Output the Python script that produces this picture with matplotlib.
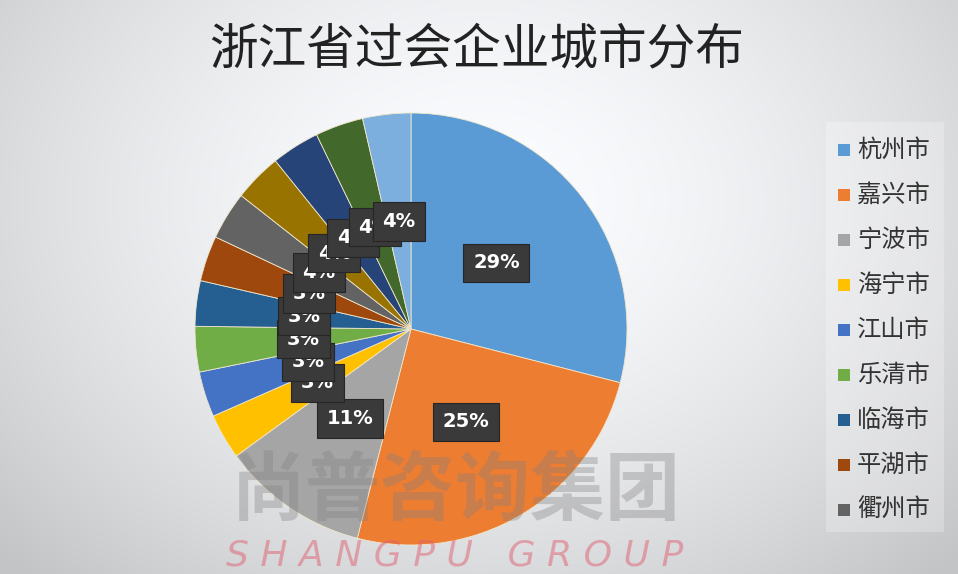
import numpy as np
import matplotlib
matplotlib.use("Agg")
import matplotlib.pyplot as plt
from matplotlib.patches import Rectangle

plt.rcParams['font.family'] = ['Noto Sans CJK SC', 'DejaVu Sans']

title = "浙江省过会企业城市分布"
cities = ["杭州市", "嘉兴市", "宁波市", "海宁市", "江山市", "乐清市", "临海市",
          "平湖市", "衢州市", "其他1", "其他2", "其他3", "其他4"]
shares = [29, 25, 11, 3.4, 3.4, 3.4, 3.4, 3.4, 3.6, 3.6, 3.6, 3.6, 3.6]
legend_count = 9
colors = ["#5B9BD5", "#ED7D31", "#A5A5A5", "#FFC000", "#4472C4", "#70AD47",
          "#255E91", "#9E480E", "#636363", "#997300", "#264478", "#43682B", "#7CAFDD"]

W, H = 958, 574
fig = plt.figure(figsize=(W / 100, H / 100), dpi=100)

# background gradient
bg = fig.add_axes([0, 0, 1, 1], zorder=-10)
yy, xx = np.mgrid[0:H, 0:W]
d = np.sqrt(((xx - 480) / 620.0) ** 2 + ((yy - 200) / 480.0) ** 2)
v = np.clip(1.0 - 0.20 * d ** 1.6, 0.78, 1.0)
img = np.dstack([v * 0.985, v * 0.99, v * 1.0])
bg.imshow(img, extent=[0, W, H, 0], aspect='auto')
bg.set_xlim(0, W)
bg.set_ylim(H, 0)
bg.axis('off')

# legend backdrop
bg.add_patch(Rectangle((826, 122), 118, 410, facecolor='white', alpha=0.25, edgecolor='none'))

cx, cy, R = 411, 329, 216
ax = fig.add_axes([(cx - R) / W, (H - cy - R) / H, 2 * R / W, 2 * R / H])
wedges, texts, autotexts = ax.pie(
    shares, colors=colors, startangle=90, counterclock=False, radius=1.0,
    autopct=lambda p: f"{p:.0f}%", pctdistance=0.5,
    wedgeprops=dict(edgecolor='#efe6cc', linewidth=0.6),
    textprops=dict(color='white', fontsize=14, fontweight='bold',
                   family=['DejaVu Sans']))
for t in autotexts:
    t.set_bbox(dict(boxstyle='square,pad=0.5', facecolor='#3a3a3a',
                    edgecolor='#262626', linewidth=0.8))
ax.set_xlim(-1, 1)
ax.set_ylim(-1, 1)
ax.set_aspect('equal')
ax.axis('off')

fig.text(477 / W, 1 - 50 / H, title, ha='center', va='center', fontsize=35,
         color='#222222')

# legend
for i in range(legend_count):
    y = 150 + i * 45
    bg.add_patch(Rectangle((838, y - 6), 12, 12, facecolor=colors[i], edgecolor='none'))
    bg.text(857, y, cities[i], ha='left', va='center', fontsize=17.5, color='#333333')

# watermark
fig.text(455 / W, 1 - 492 / H, "尚普咨询集团", ha='center', va='center', fontsize=54,
         fontweight='bold', color='#808080', alpha=0.35)
fig.text(455 / W, 1 - 556 / H, "S H A N G P U   G R O U P", ha='center', va='center',
         fontsize=26, style='italic', color='#e06070', alpha=0.5, family=['DejaVu Sans'])

fig.savefig("out.png", dpi=100)
